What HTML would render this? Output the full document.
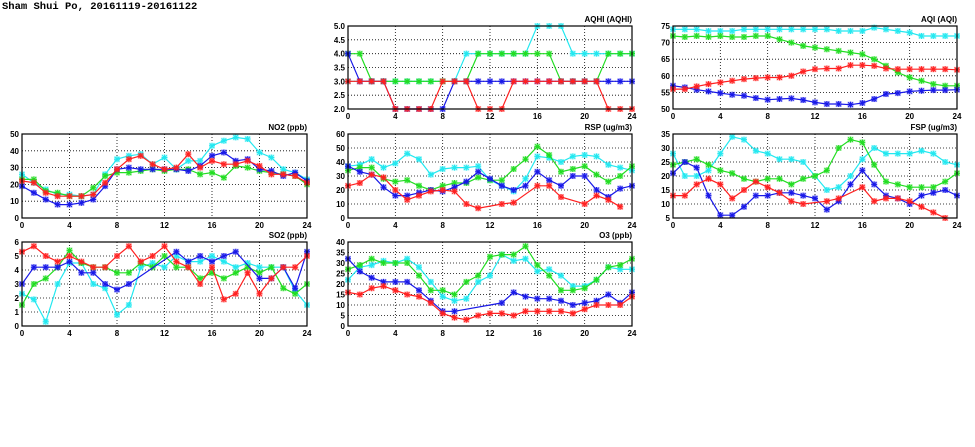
<!DOCTYPE html>
<html><head><meta charset="utf-8">
<style>
html,body{margin:0;padding:0;background:#fff;}
svg{display:block;}
text{font-family:"Liberation Sans",sans-serif;font-weight:bold;font-size:8px;fill:#000;}
.ttl{font-family:"Liberation Mono",monospace;font-size:10.5px;font-weight:bold;}
</style></head>
<body>
<svg id="chart" width="975" height="447" viewBox="0 0 975 447" xmlns="http://www.w3.org/2000/svg">
<text class="ttl" x="2" y="9">Sham Shui Po, 20161119-20161122</text>
</svg>
<script>
const hours = [0,1,2,3,4,5,6,7,8,9,10,11,12,13,14,15,16,17,18,19,20,21,22,23,24];
const xTicks = [0,4,8,12,16,20,24];

const aqhiCyan = [3,3,3,3,3,3,3,3,3,3,4,4,4,4,4,4,5,5,5,4,4,4,4,4,4];
const aqhiGreen = [4,4,3,3,3,3,3,3,3,3,3,4,4,4,4,4,4,4,3,3,3,3,4,4,4];
const aqhiBlue = [4,3,3,3,2,2,2,2,2,3,3,3,3,3,3,3,3,3,3,3,3,3,3,3,3];
const aqhiRed = [3,3,3,3,2,2,2,2,3,3,3,2,2,2,3,3,3,3,3,3,3,3,2,2,2];
const aqhiTicks = [2.0,2.5,3.0,3.5,4.0,4.5,5.0];

const aqiCyan = [74,74,74,73.5,73.5,73.5,74,74,74,74,74,74,74,74,73.5,73.5,73.5,74.5,74,73.5,73,72,72,72,72];
const aqiGreen = [72,71.7,72,71.7,72,71.7,71.7,72,72,71,70,69,68.5,68,67.5,67,66.5,65,63,61,59.5,58.5,57.5,57,57];
const aqiBlue = [57,56.5,55.8,55.3,54.8,54.3,54,53.3,52.8,53,53.2,52.7,52,51.5,51.5,51.3,51.8,53,54.5,54.8,55.3,55.5,55.7,55.7,55.8];
const aqiRed = [56,56,56.8,57.5,58,58.5,59,59.3,59.5,59.5,60,61.3,62,62.2,62.2,63.2,63.2,63,62.2,62,62,62,62,62,61.8];
const aqiTicks = [50,55,60,65,70,75];

const no2Cyan = [26,21,17,14,14,13,14,26,35,37,38,32,36,29,34,34,43,46,48,47,39,36,29,27,23];
const no2Green = [23,23,16,15,13,13,18,25,27,27,28,29,28,29,29,26,27,24,31,30,28,27,26,25,20];
const no2Blue = [19,15,11,8,8,9,11,19,29,30,29,29,29,29,28,31,37,39,34,35,29,28,25,27,22];
const no2Red = [22,21,15,13,13,13,14,21,29,35,37,32,29,30,38,30,34,32,32,34,31,26,26,25,21];
const no2Ticks = [0,10,20,30,40,50];

const rspCyan = [37,38,42,36,39,46,42,31,35,36,36,37,27,23,19,28,44,43,40,44,45,44,38,36,34];
const rspGreen = [34,36,36,28,26,27,23,20,23,25,25,29,27,27,35,42,51,45,33,35,37,31,26,30,37];
const rspBlue = [37,33,31,22,16,16,18,20,19,22,26,33,28,23,20,23,33,27,23,30,30,20,15,21,23];
const rspRed = [23,25,31,29,20,13,16,19,20,19,10,7,null,10,11,null,23,23,15,null,10,16,13,8,null];
const rspTicks = [0,10,20,30,40,50,60];

const fspCyan = [28,20,20,22,28,34,33,29,28,26,26,25,20,15,16,20,26,30,28,28,28,29,28,25,24];
const fspGreen = [24,25,26,24,22,21,19,18,19,19,17,19,20,22,30,33,32,24,18,17,16,16,16,18,21];
const fspBlue = [21,25,23,13,6,6,9,13,13,14,14,13,12,8,11,17,22,17,13,12,10,13,14,15,13];
const fspRed = [13,13,17,19,17,12,15,18,16,14,11,10,null,11,12,null,16,11,12,12,11,9,7,5,null];
const fspTicks = [5,10,15,20,25,30,35];

const so2Cyan = [2.3,1.9,0.3,3,4.5,4.5,3,2.7,0.8,1.5,4.2,4.5,4.2,5,4.6,4.6,5,4.6,4.2,4.5,4.2,4.2,4.2,2.5,1.5];
const so2Green = [1.5,3,3.4,4.2,5.4,4.5,4.2,4.2,3.8,3.8,4.5,4.2,5,4.2,4.2,3.4,3.8,3.4,3.8,4.2,3.8,4.2,2.7,2.3,3];
const so2Blue = [3,4.2,4.2,4.2,4.6,3.8,3.8,3,2.6,3,null,null,null,5.3,4.6,5,4.6,5,5.3,null,3.4,3.4,4.2,2.7,5.3];
const so2Red = [5.3,5.7,5,4.6,5,4.6,4.2,4.2,5,5.7,4.6,5,5.7,4.6,4.2,3,4.2,1.9,2.3,3.8,2.3,3.4,4.2,4.2,5];
const so2Ticks = [0,1,2,3,4,5,6];

const o3Cyan = [22,28,29,31,30,32,28,21,14,12,13,21,24,34,31,32,26,27,24,19,19,22,28,27,27];
const o3Green = [27,29,32,30,30,30,24,17,17,15,21,24,33,34,34,38,29,24,17,17,18,22,28,29,32];
const o3Blue = [32,26,23,21,21,21,17,12,7,7,null,null,null,11,16,14,13,13,12,10,11,12,15,11,16];
const o3Red = [16,15,18,19,17,15,14,11,6,4,3,5,6,6,5,7,7,7,7,6,8,10,10,10,14];
const o3Ticks = [0,5,10,15,20,25,30,35,40];

const COLORS = {cyan:'#22e8f0', green:'#22dd22', blue:'#1818e8', red:'#ff2020'};
const NS = 'http://www.w3.org/2000/svg';
const svg = document.getElementById('chart');

function mk(tag, attrs, parent){
  const e = document.createElementNS(NS, tag);
  for (const k in attrs) e.setAttribute(k, attrs[k]);
  (parent||svg).appendChild(e);
  return e;
}

function panel(key, title, x0, y0, x1, y1, yTicks, series){
  const g = mk('g', {});
  
  
  const ymin = yTicks[0], ymax = yTicks[yTicks.length-1];
  const sx = v => x0 + (v - 0) / 24 * (x1 - x0);
  const sy = v => y1 - (v - ymin) / (ymax - ymin) * (y1 - y0);
  yTicks.forEach((t, i) => {
    const y = sy(t);
    if (i > 0 && i < yTicks.length-1) {
      const l = mk('line', {x1:x0, x2:x1, y1:y, y2:y, stroke:'#000', 'stroke-width':0.8, 'stroke-dasharray':'1,2'}, g);
      
      
    }
    const tx = mk('text', {x:x0-3, y:y+3, 'text-anchor':'end'}, g);
    tx.textContent = (ymax <= 6 && yTicks.some(v => v % 1 !== 0)) ? t.toFixed(1) : String(t);
    
    
  });
  xTicks.forEach((t, i) => {
    const x = sx(t);
    if (i > 0 && i < xTicks.length-1) {
      const l = mk('line', {x1:x, x2:x, y1:y0, y2:y1, stroke:'#000', 'stroke-width':0.8, 'stroke-dasharray':'1,2'}, g);
      
      
    }
    const tx = mk('text', {x:x, y:y1+10, 'text-anchor':'middle'}, g);
    tx.textContent = String(t);
    
    
  });
  const tt = mk('text', {x:x1, y:y0-4, 'text-anchor':'end'}, g);
  tt.textContent = title;
  
  
  series.forEach(([cname, vals]) => {
    const col = COLORS[cname];
    const pts = [];
    vals.forEach((v, i) => { if (v !== null && v !== undefined) pts.push([sx(hours[i]), sy(v)]); });
    const pl = mk('polyline', {points: pts.map(p => p[0].toFixed(1)+','+p[1].toFixed(1)).join(' '), fill:'none', stroke:col, 'stroke-width':1.2}, g);
    
    
    pts.forEach(([px, py]) => {
      const m = mk('g', {}, g);
      
      
      mk('rect', {x:px-3, y:py-3, width:6, height:6, fill:col, 'fill-opacity':0.35}, m);
      const d = 'M'+(px-3)+' '+py+'H'+(px+3)+'M'+px+' '+(py-3)+'V'+(py+3)+'M'+(px-2.3)+' '+(py-2.3)+'L'+(px+2.3)+' '+(py+2.3)+'M'+(px-2.3)+' '+(py+2.3)+'L'+(px+2.3)+' '+(py-2.3);
      mk('path', {d:d, stroke:col, 'stroke-width':1, fill:'none'}, m);
    });
  });
  const bd = mk('rect', {x:x0, y:y0, width:x1-x0, height:y1-y0, fill:'none', stroke:'#000', 'stroke-width':1.2}, g);
  
  
}

panel('aqhi', 'AQHI (AQHI)', 348, 26, 632, 109, aqhiTicks,
  [['cyan', aqhiCyan], ['green', aqhiGreen], ['blue', aqhiBlue], ['red', aqhiRed]]);
panel('aqi', 'AQI (AQI)', 673, 26, 957, 109, aqiTicks,
  [['cyan', aqiCyan], ['green', aqiGreen], ['blue', aqiBlue], ['red', aqiRed]]);
panel('no2', 'NO2 (ppb)', 22, 134, 307, 218, no2Ticks,
  [['cyan', no2Cyan], ['green', no2Green], ['blue', no2Blue], ['red', no2Red]]);
panel('rsp', 'RSP (ug/m3)', 348, 134, 632, 218, rspTicks,
  [['cyan', rspCyan], ['green', rspGreen], ['blue', rspBlue], ['red', rspRed]]);
panel('fsp', 'FSP (ug/m3)', 673, 134, 957, 218, fspTicks,
  [['cyan', fspCyan], ['green', fspGreen], ['blue', fspBlue], ['red', fspRed]]);
panel('so2', 'SO2 (ppb)', 22, 242, 307, 326, so2Ticks,
  [['cyan', so2Cyan], ['green', so2Green], ['blue', so2Blue], ['red', so2Red]]);
panel('o3', 'O3 (ppb)', 348, 242, 632, 326, o3Ticks,
  [['cyan', o3Cyan], ['green', o3Green], ['blue', o3Blue], ['red', o3Red]]);
</script>
</body></html>
